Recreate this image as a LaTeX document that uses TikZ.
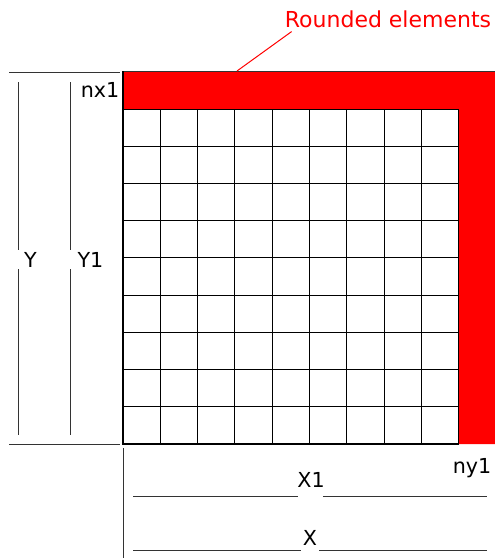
\documentclass[tikz,border=0pt]{standalone}
\usepackage{fontspec}
\setmainfont{DejaVu Sans}
\usepackage{xcolor}
\usepackage{tikz}
\usetikzlibrary{calc}
\definecolor{roundred}{HTML}{FF0000}

\begin{document}
\begin{tikzpicture}[x=0.75pt, y=-0.75pt,
    dimlbl/.style={font=\fontsize{15.5}{18}\selectfont, text=black,
                  inner sep=1.5pt, anchor=base},
    redlbl/.style={dimlbl, font=\fontsize{16.5}{19}\selectfont, text=roundred},
    dimline/.style={line width=0.75pt, draw=black!80},
    cell/.style={line width=0.75pt, draw=black},
    border/.style={line width=1.5pt, draw=black},
  ]
  \useasboundingbox (0,0) rectangle (495,558);

  % --- rounded elements: top row and right column -------------------------
  \fill[roundred] (123,71) -- (495,71) -- (495,444) -- (459,444)
                  -- (459,109) -- (123,109) -- cycle;
  \draw[dimline] (123,71) -- (495,71);

  % --- inner mesh, 9 x 9 cells --------------------------------------------
  \foreach \i in {1,...,9}
    \draw[cell] ({123+37.33*\i},109) -- ({123+37.33*\i},444);
  \foreach \j in {0,...,8}
    \draw[cell] (123,{109+37.22*\j}) -- (459,{109+37.22*\j});
  \draw[border] (123,71) -- (123,444) -- (459,444);

  % --- labels ---------------------------------------------------------------
  \node[dimlbl] (nx)  at (100,97)  {nx1};
  \node[dimlbl] (ny)  at (472,473) {ny1};
  \node[dimlbl] (lY)  at (30.5,267) {Y};
  \node[dimlbl] (lY1) at (90.5,267) {Y1};
  \node[dimlbl] (lX1) at (311,487) {X1};
  \node[dimlbl] (lX)  at (310,545) {X};
  \node[redlbl] (lRound) at (388,27) {Rounded elements};

  % --- dimension ends -------------------------------------------------------
  \coordinate (yTop)  at (18,82);  \coordinate (yBot)  at (18,435);
  \coordinate (y1Top) at (70,82);  \coordinate (y1Bot) at (70,435);
  \coordinate (x1L) at (133,496);  \coordinate (x1R) at (487,496);
  \coordinate (xL)  at (133,550);  \coordinate (xR)  at (487,550);
  \coordinate (rndTip) at (237,71);

  % --- extension lines ------------------------------------------------------
  \draw[dimline] (9,72) -- (120,72);
  \draw[dimline] (9,444) -- (120,444);
  \draw[dimline] (123,448) -- (123,558);

  % --- dimension lines, broken at their labels -----------------------------
  \draw[dimline] (yTop) -- (yTop |- lY.north);  \draw[dimline] (yTop |- lY.south) -- (yBot);
  \draw[dimline] (y1Top) -- (y1Top |- lY1.north); \draw[dimline] (y1Top |- lY1.south) -- (y1Bot);
  \draw[dimline, shorten >=-2.5pt] (x1L) -- (x1L -| lX1.west);
  \draw[dimline, shorten <=-3pt] (x1L -| lX1.east) -- (x1R);
  \draw[dimline] (xL) -- (xL -| lX.west);     \draw[dimline] (xL -| lX.east) -- (xR);

  % --- leader to the rounded band ------------------------------------------
  \draw[line width=0.75pt, roundred] ($(lRound.south west)+(9,2)$) -- (rndTip);
\end{tikzpicture}
\end{document}
